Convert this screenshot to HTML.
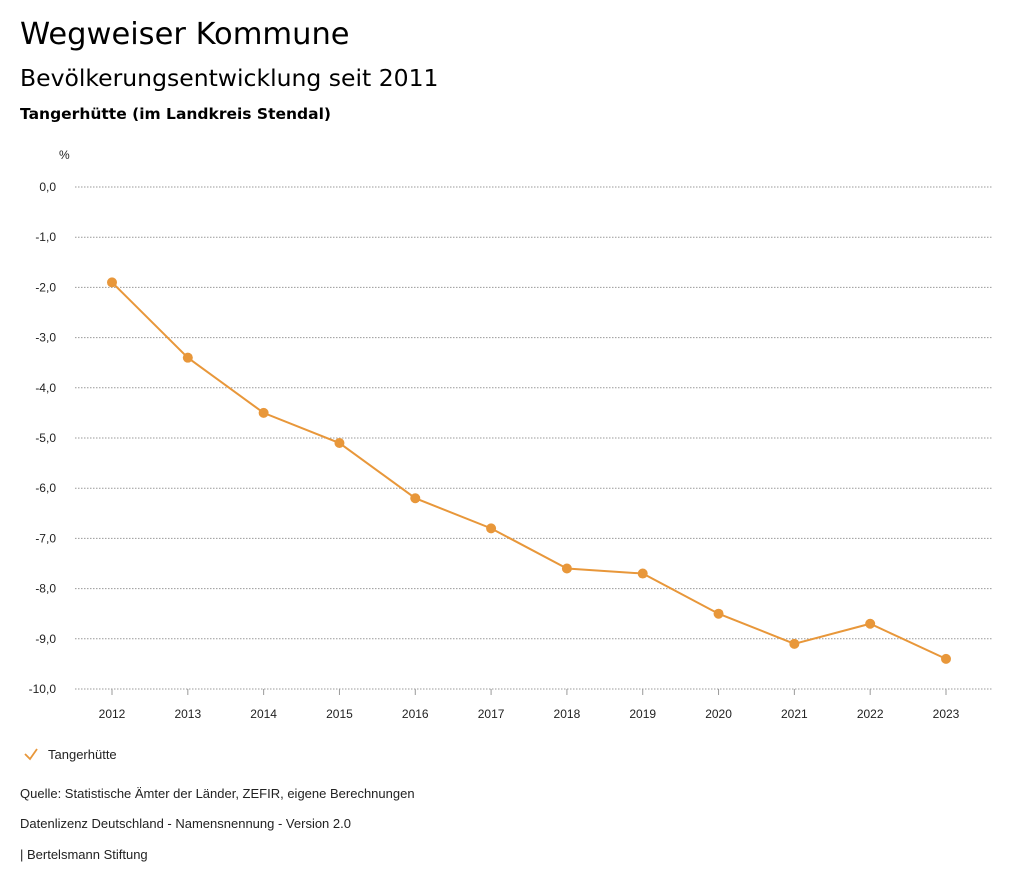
<!DOCTYPE html>
<html><head><meta charset="utf-8"><style>
body{margin:0;background:#fff;font-family:"Liberation Sans",sans-serif;color:#000}
#wrap{position:relative;width:1024px;height:888px;overflow:hidden}
.t{position:absolute;left:20px;white-space:nowrap}
.d{font-family:"DejaVu Sans",sans-serif}
</style></head><body><div id="wrap">
<div class="t d" style="top:17px;font-size:30.5px">Wegweiser Kommune</div>
<div class="t d" style="top:64px;font-size:23.5px">Bevölkerungsentwicklung seit 2011</div>
<div class="t d" style="top:105px;font-size:15.5px;font-weight:bold">Tangerhütte (im Landkreis Stendal)</div>
<svg id="c" width="1024" height="888" style="position:absolute;left:0;top:0"></svg>
<div class="t" style="top:786px;font-size:13px;color:#222">Quelle: Statistische Ämter der Länder, ZEFIR, eigene Berechnungen</div>
<div class="t" style="top:816px;font-size:13px;color:#222">Datenlizenz Deutschland - Namensnennung - Version 2.0</div>
<div class="t" style="top:847px;font-size:13px;color:#222">| Bertelsmann Stiftung</div>
</div>
<script>
const years=["2012","2013","2014","2015","2016","2017","2018","2019","2020","2021","2022","2023"];
const values=[-1.9,-3.4,-4.5,-5.1,-6.2,-6.8,-7.6,-7.7,-8.5,-9.1,-8.7,-9.4];
const yTicks=[0,-1,-2,-3,-4,-5,-6,-7,-8,-9,-10];
const seriesName="Tangerhütte";
const col="#e8973a";
const svg=document.getElementById('c');const NS="http://www.w3.org/2000/svg";
function x(i){return 112+i*(946-112)/(years.length-1);}
function y(v){return 187+(0-v)*(689-187)/10;}
function el(t,a,p){const e=document.createElementNS(NS,t);for(const k in a)e.setAttribute(k,a[k]);(p||svg).appendChild(e);return e;}
let u=el('text',{x:59,y:159,'font-size':12,fill:'#222'});u.textContent='%';


yTicks.forEach(v=>{
 const l=el('line',{x1:75,x2:993,y1:y(v),y2:y(v),stroke:'#999','stroke-dasharray':'1.5,1.5','stroke-width':1});
 
 
 const t=el('text',{x:56,y:y(v)+4,'text-anchor':'end','font-size':12,fill:'#222'});
 t.textContent=v.toFixed(1).replace('.',',').replace('-0,0','0,0');
 
 
});
years.forEach((yr,i)=>{
 const k=el('line',{x1:x(i),x2:x(i),y1:689,y2:695,stroke:'#999'});
 
 
 const t=el('text',{x:x(i),y:718,'text-anchor':'middle','font-size':12,fill:'#222'});t.textContent=yr;
 
 
});
const p=el('polyline',{points:values.map((v,i)=>x(i)+','+y(v)).join(' '),fill:'none',stroke:col,'stroke-width':2});


values.forEach((v,i)=>{const c=el('circle',{cx:x(i),cy:y(v),r:5,fill:col});
 
 });
const g=el('g',{});


el('polyline',{points:'25,754 30,759 37,749',fill:'none',stroke:col,'stroke-width':1.8},g);
const lt=el('text',{x:48,y:759,'font-size':13,fill:'#222'},g);lt.textContent=seriesName;
</script></body></html>
